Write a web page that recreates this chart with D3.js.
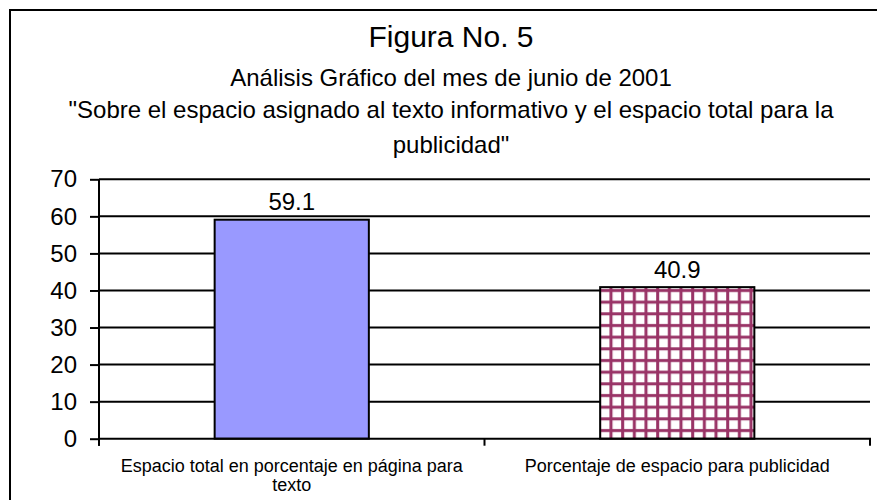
<!DOCTYPE html>
<html>
<head>
<meta charset="utf-8">
<script src="https://cdn.jsdelivr.net/npm/d3@7"></script>
<style>
  body { margin: 0; background: #fff; }
  text { font-family: "Liberation Sans", Arial, sans-serif; fill: #000; }
</style>
</head>
<body>
<div id="chart"></div>
<script>
const categories = ["Espacio total en porcentaje en página para texto", "Porcentaje de espacio para publicidad"];
const values = [59.1, 40.9];
const yTicks = [0, 10, 20, 30, 40, 50, 60, 70];
const titleLines = [
  "Análisis Gráfico del mes de junio de 2001",
  "\"Sobre el espacio asignado al texto informativo y el espacio total para la",
  "publicidad\""
];

const svgWidth = 877, svgHeight = 500;
const plot = { left: 99, right: 870, top: 179.3, bottom: 438.7 };

const svg = d3.select('#chart').append('svg')
  .attr('width', svgWidth)
  .attr('height', svgHeight);

// crosshatch for the second bar
const defs = svg.append('defs');
const pat = defs.append('pattern')
  .attr('id', 'hatch')
  .attr('patternUnits', 'userSpaceOnUse')
  .attr('x', 604.5).attr('y', 284)
  .attr('width', 11.67).attr('height', 11.67);
pat.append('rect').attr('width', 11.67).attr('height', 11.67).attr('fill', '#fff');
pat.append('rect').attr('x', 5).attr('y', 0).attr('width', 3).attr('height', 11.67).attr('fill', '#993366');
pat.append('rect').attr('x', 0).attr('y', 5).attr('width', 11.67).attr('height', 3).attr('fill', '#993366');

// outer frame
svg.append('rect')
  .attr('x', 10).attr('y', 10)
  .attr('width', 900).attr('height', 520)
  .attr('fill', 'none')
  .attr('stroke', '#000')
  .attr('stroke-width', 2);

// titles
svg.append('text')
  .attr('x', 451).attr('y', 46.7)
  .attr('text-anchor', 'middle')
  .style('font-size', '30px')
  .text('Figura No. 5');

const titleY = [86, 118.3, 153.3];
svg.selectAll('.subtitle')
  .data(titleLines)
  .enter()
  .append('text')
  .attr('class', 'subtitle')
  .attr('x', 451)
  .attr('y', (d, i) => titleY[i])
  .attr('text-anchor', 'middle')
  .style('font-size', '24px')
  .text(d => d);

const xScale = d3.scaleBand()
  .domain(categories)
  .range([plot.left, plot.right])
  .paddingInner(0.6)
  .paddingOuter(0.3);

const yScale = d3.scaleLinear()
  .domain([0, 70])
  .range([plot.bottom, plot.top]);

// gridlines
svg.append('g')
  .selectAll('line')
  .data(yTicks.filter(d => d > 0))
  .enter()
  .append('line')
  .attr('x1', plot.left).attr('x2', plot.right)
  .attr('y1', d => yScale(d)).attr('y2', d => yScale(d))
  .attr('stroke', '#000')
  .attr('stroke-width', 2);

// y axis
const yAxis = svg.append('g')
  .attr('transform', `translate(${plot.left},0)`)
  .call(d3.axisLeft(yScale).tickValues(yTicks).tickSize(9).tickSizeOuter(0).tickPadding(13));
yAxis.select('.domain').remove();
yAxis.selectAll('.tick line').attr('stroke', '#000').attr('stroke-width', 2);
yAxis.selectAll('.tick text')
  .style('font-size', '24px')
  .style('font-family', '"Liberation Sans", Arial, sans-serif')
  .attr('fill', '#000');
svg.append('line')
  .attr('x1', plot.left).attr('x2', plot.left)
  .attr('y1', plot.top).attr('y2', plot.bottom + 7)
  .attr('stroke', '#000').attr('stroke-width', 2);

// bars
svg.selectAll('.bar')
  .data(values)
  .enter()
  .append('rect')
  .attr('class', 'bar')
  .attr('x', (d, i) => xScale(categories[i]))
  .attr('y', d => yScale(d))
  .attr('width', xScale.bandwidth())
  .attr('height', d => yScale(0) - yScale(d))
  .attr('fill', (d, i) => i === 0 ? '#9999ff' : 'url(#hatch)')
  .attr('stroke', '#000')
  .attr('stroke-width', 2);

// value labels
svg.selectAll('.val')
  .data(values)
  .enter()
  .append('text')
  .attr('class', 'val')
  .attr('x', (d, i) => xScale(categories[i]) + xScale.bandwidth() / 2)
  .attr('y', d => yScale(d) - 9.5)
  .attr('text-anchor', 'middle')
  .style('font-size', '24px')
  .text(d => d.toFixed(1));

// x axis line and boundary ticks
svg.append('line')
  .attr('x1', plot.left).attr('x2', plot.right + 1)
  .attr('y1', plot.bottom).attr('y2', plot.bottom)
  .attr('stroke', '#000').attr('stroke-width', 2);
svg.selectAll('.xtick')
  .data(d3.range(categories.length + 1))
  .enter()
  .append('line')
  .attr('class', 'xtick')
  .attr('x1', i => plot.left + i * xScale.step())
  .attr('x2', i => plot.left + i * xScale.step())
  .attr('y1', plot.bottom).attr('y2', plot.bottom + 7)
  .attr('stroke', '#000').attr('stroke-width', 2);

// category labels (wrapped)
const maxW = 360;
categories.forEach(c => {
  const t = svg.append('text')
    .attr('x', xScale(c) + xScale.bandwidth() / 2)
    .attr('y', 472)
    .attr('text-anchor', 'middle')
    .style('font-size', '18px');
  const words = c.split(' ');
  let line = [];
  let ts = t.append('tspan').attr('x', xScale(c) + xScale.bandwidth() / 2).attr('dy', 0);
  words.forEach(w => {
    line.push(w);
    ts.text(line.join(' '));
    if (ts.node().getComputedTextLength() > maxW && line.length > 1) {
      line.pop();
      ts.text(line.join(' '));
      line = [w];
      ts = t.append('tspan').attr('x', xScale(c) + xScale.bandwidth() / 2).attr('dy', 19).text(w);
    }
  });
});
</script>
</body>
</html>
